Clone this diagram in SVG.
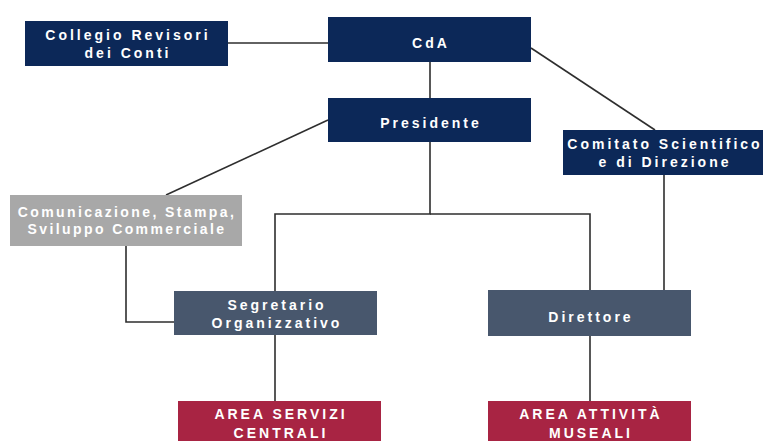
<svg xmlns="http://www.w3.org/2000/svg" width="763" height="441" viewBox="0 0 763 441">
<style>
.t{font-family:"Liberation Sans",Arial,sans-serif;font-weight:bold;font-size:14px;letter-spacing:3px;fill:#ffffff;text-anchor:middle}
.n{letter-spacing:2.4px}
.navy{fill:#0c2858}
.slate{fill:#48576d}
.gray{fill:#a8a8a8}
.red{fill:#a82443}
.c{stroke:#2e2e2e;stroke-width:1.6;fill:none}
</style>
<rect width="763" height="441" fill="#ffffff"/>
<g id="connectors">
<line class="c" x1="228" y1="43" x2="328" y2="43"/>
<line class="c" x1="430" y1="62" x2="430" y2="98"/>
<line class="c" x1="531" y1="48" x2="655" y2="130"/>
<line class="c" x1="328" y1="120" x2="166" y2="195"/>
<polyline class="c" points="430,142 430,214 275,214 275,291"/>
<polyline class="c" points="430,214 590,214 590,290"/>
<line class="c" x1="664" y1="175" x2="664" y2="290"/>
<polyline class="c" points="126,246 126,322 174,322"/>
<line class="c" x1="275" y1="335" x2="275" y2="401"/>
<line class="c" x1="590" y1="336" x2="590" y2="401"/>
</g>
<g id="collegio">
<rect class="navy" x="25" y="21" width="203" height="45"/>
<text class="t" x="128" y="40">Collegio Revisori</text>
<text class="t" x="128" y="58">dei Conti</text>
</g>
<g id="cda">
<rect class="navy" x="328" y="17" width="203" height="45"/>
<text class="t" x="431" y="48">CdA</text>
</g>
<g id="presidente">
<rect class="navy" x="328" y="98" width="203" height="44"/>
<text class="t" x="431" y="128">Presidente</text>
</g>
<g id="comitato">
<rect class="navy" x="563" y="130" width="200" height="45"/>
<text class="t" x="665" y="149">Comitato Scientifico</text>
<text class="t" x="665" y="167">e di Direzione</text>
</g>
<g id="comunicazione">
<rect class="gray" x="10" y="195" width="232" height="51"/>
<text class="t n" x="127" y="217">Comunicazione, Stampa,</text>
<text class="t n" x="127" y="234">Sviluppo Commerciale</text>
</g>
<g id="segretario">
<rect class="slate" x="174" y="291" width="203" height="44"/>
<text class="t" x="277" y="310">Segretario</text>
<text class="t" x="277" y="328">Organizzativo</text>
</g>
<g id="direttore">
<rect class="slate" x="488" y="290" width="203" height="46"/>
<text class="t" x="591" y="322">Direttore</text>
</g>
<g id="area-servizi">
<rect class="red" x="178" y="401" width="203" height="45"/>
<text class="t" x="281" y="419">AREA SERVIZI</text>
<text class="t" x="281" y="438">CENTRALI</text>
</g>
<g id="area-attivita">
<rect class="red" x="488" y="401" width="203" height="45"/>
<text class="t" x="591" y="419">AREA ATTIVITÀ</text>
<text class="t" x="591" y="438">MUSEALI</text>
</g>
</svg>
